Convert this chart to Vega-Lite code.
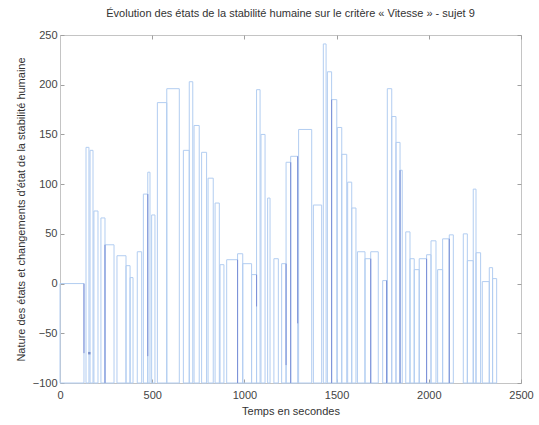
{
  "$schema": "https://vega.github.io/schema/vega-lite/v6.json",
  "width": 461,
  "height": 348,
  "autosize": {"type": "none"},
  "padding": {"left": 60, "top": 35, "right": 18, "bottom": 42},
  "background": "white",
  "title": {
    "text": "Évolution des états de la stabilité humaine sur le critère « Vitesse » - sujet 9",
    "font": "Liberation Sans",
    "fontSize": 11,
    "fontWeight": "normal",
    "color": "#333333",
    "anchor": "middle",
    "offset": 10
  },
  "config": {
    "view": {"stroke": "#c4c4c4", "strokeWidth": 1},
    "axis": {
      "labelFont": "Liberation Sans",
      "labelFontSize": 11,
      "labelColor": "#444444",
      "titleFont": "Liberation Sans",
      "titleFontSize": 11,
      "titleFontWeight": "normal",
      "titleColor": "#333333",
      "domainColor": "#c4c4c4",
      "tickColor": "#a0a0a0",
      "tickSize": -4,
      "grid": false,
      "zindex": 1,
      "format": "d"
    }
  },
  "datasets": {
    "bars": [
      {"t0": 0, "t1": 130, "v": 0},
      {"t0": 141, "t1": 157, "v": 137},
      {"t0": 163, "t1": 179, "v": 134},
      {"t0": 184, "t1": 206, "v": 73},
      {"t0": 222, "t1": 244, "v": 66},
      {"t0": 244, "t1": 293, "v": 39},
      {"t0": 309, "t1": 358, "v": 28},
      {"t0": 358, "t1": 380, "v": 18},
      {"t0": 380, "t1": 396, "v": 6},
      {"t0": 419, "t1": 443, "v": 32},
      {"t0": 452, "t1": 476, "v": 90},
      {"t0": 476, "t1": 488, "v": 112},
      {"t0": 497, "t1": 515, "v": 69},
      {"t0": 528, "t1": 579, "v": 182},
      {"t0": 579, "t1": 647, "v": 196},
      {"t0": 669, "t1": 701, "v": 134},
      {"t0": 701, "t1": 720, "v": 203},
      {"t0": 727, "t1": 755, "v": 159},
      {"t0": 768, "t1": 795, "v": 132},
      {"t0": 803, "t1": 831, "v": 106},
      {"t0": 841, "t1": 864, "v": 81},
      {"t0": 868, "t1": 889, "v": 19},
      {"t0": 904, "t1": 963, "v": 24},
      {"t0": 963, "t1": 991, "v": 30},
      {"t0": 991, "t1": 1039, "v": 20},
      {"t0": 1039, "t1": 1066, "v": 9},
      {"t0": 1066, "t1": 1085, "v": 195},
      {"t0": 1090, "t1": 1112, "v": 150},
      {"t0": 1126, "t1": 1139, "v": 86},
      {"t0": 1160, "t1": 1184, "v": 25},
      {"t0": 1202, "t1": 1226, "v": 20},
      {"t0": 1226, "t1": 1251, "v": 122},
      {"t0": 1251, "t1": 1289, "v": 128},
      {"t0": 1294, "t1": 1365, "v": 155},
      {"t0": 1374, "t1": 1419, "v": 79},
      {"t0": 1428, "t1": 1443, "v": 241},
      {"t0": 1450, "t1": 1473, "v": 213},
      {"t0": 1473, "t1": 1501, "v": 185},
      {"t0": 1504, "t1": 1528, "v": 157},
      {"t0": 1528, "t1": 1555, "v": 130},
      {"t0": 1560, "t1": 1582, "v": 102},
      {"t0": 1582, "t1": 1605, "v": 76},
      {"t0": 1613, "t1": 1654, "v": 32},
      {"t0": 1654, "t1": 1685, "v": 25},
      {"t0": 1685, "t1": 1726, "v": 32},
      {"t0": 1750, "t1": 1775, "v": 3},
      {"t0": 1775, "t1": 1799, "v": 196},
      {"t0": 1799, "t1": 1822, "v": 168},
      {"t0": 1822, "t1": 1844, "v": 142},
      {"t0": 1844, "t1": 1856, "v": 114},
      {"t0": 1875, "t1": 1898, "v": 52},
      {"t0": 1898, "t1": 1921, "v": 25},
      {"t0": 1921, "t1": 1948, "v": 14},
      {"t0": 1948, "t1": 1988, "v": 25},
      {"t0": 1988, "t1": 2012, "v": 29},
      {"t0": 2012, "t1": 2039, "v": 43},
      {"t0": 2048, "t1": 2075, "v": 14},
      {"t0": 2075, "t1": 2111, "v": 45},
      {"t0": 2111, "t1": 2133, "v": 49},
      {"t0": 2187, "t1": 2209, "v": 50},
      {"t0": 2209, "t1": 2241, "v": 23},
      {"t0": 2241, "t1": 2256, "v": 95},
      {"t0": 2256, "t1": 2281, "v": 31},
      {"t0": 2290, "t1": 2328, "v": 2},
      {"t0": 2328, "t1": 2346, "v": 16},
      {"t0": 2346, "t1": 2368, "v": 5}
    ],
    "changes": [
      {"t": 130, "a": 0, "b": -70},
      {"t": 244, "a": 39, "b": -100},
      {"t": 476, "a": 90, "b": -73},
      {"t": 963, "a": 24, "b": -100},
      {"t": 1066, "a": 9, "b": -23},
      {"t": 1226, "a": 20, "b": -82},
      {"t": 1251, "a": 122, "b": -100},
      {"t": 1289, "a": 128, "b": -40},
      {"t": 1473, "a": 185, "b": -100},
      {"t": 1685, "a": 25, "b": -100},
      {"t": 1771, "a": 3, "b": -100},
      {"t": 1844, "a": 114, "b": -100},
      {"t": 1988, "a": 25, "b": -100},
      {"t": 2111, "a": 45, "b": -100}
    ],
    "marks": [
      {"t": 159, "v": -70}
    ]
  },
  "layer": [
    {
      "data": {"name": "bars"},
      "mark": {"type": "rect", "filled": false, "stroke": "#b2cdf1", "strokeWidth": 1},
      "encoding": {
        "x": {
          "field": "t0", "type": "quantitative",
          "scale": {"domain": [0, 2500], "nice": false},
          "axis": {"values": [0, 500, 1000, 1500, 2000, 2500], "title": "Temps en secondes", "labelPadding": 10, "titlePadding": 5, "labelFlush": false}
        },
        "x2": {"field": "t1"},
        "y": {
          "field": "v", "type": "quantitative",
          "scale": {"domain": [-100, 250], "nice": false},
          "axis": {"values": [-100, -50, 0, 50, 100, 150, 200, 250], "title": "Nature des états et changements d'état de la stabilité humaine", "labelPadding": 7, "titlePadding": 6}
        },
        "y2": {"datum": -100}
      }
    },
    {
      "data": {"name": "changes"},
      "mark": {"type": "rule", "stroke": "#7b8fd6", "strokeWidth": 1},
      "encoding": {
        "x": {"field": "t", "type": "quantitative", "axis": null},
        "y": {"field": "a", "type": "quantitative", "axis": null},
        "y2": {"field": "b"}
      }
    },
    {
      "data": {"name": "marks"},
      "mark": {"type": "point", "shape": "square", "size": 6, "filled": true, "color": "#5a6fb8"},
      "encoding": {
        "x": {"field": "t", "type": "quantitative", "axis": {"orient": "top", "labels": false, "title": null, "domain": false, "values": [0, 500, 1000, 1500, 2000, 2500]}},
        "y": {"field": "v", "type": "quantitative", "axis": {"orient": "right", "labels": false, "title": null, "domain": false, "values": [-100, -50, 0, 50, 100, 150, 200, 250]}}
      }
    }
  ],
  "resolve": {"axis": {"x": "independent", "y": "independent"}}
}
